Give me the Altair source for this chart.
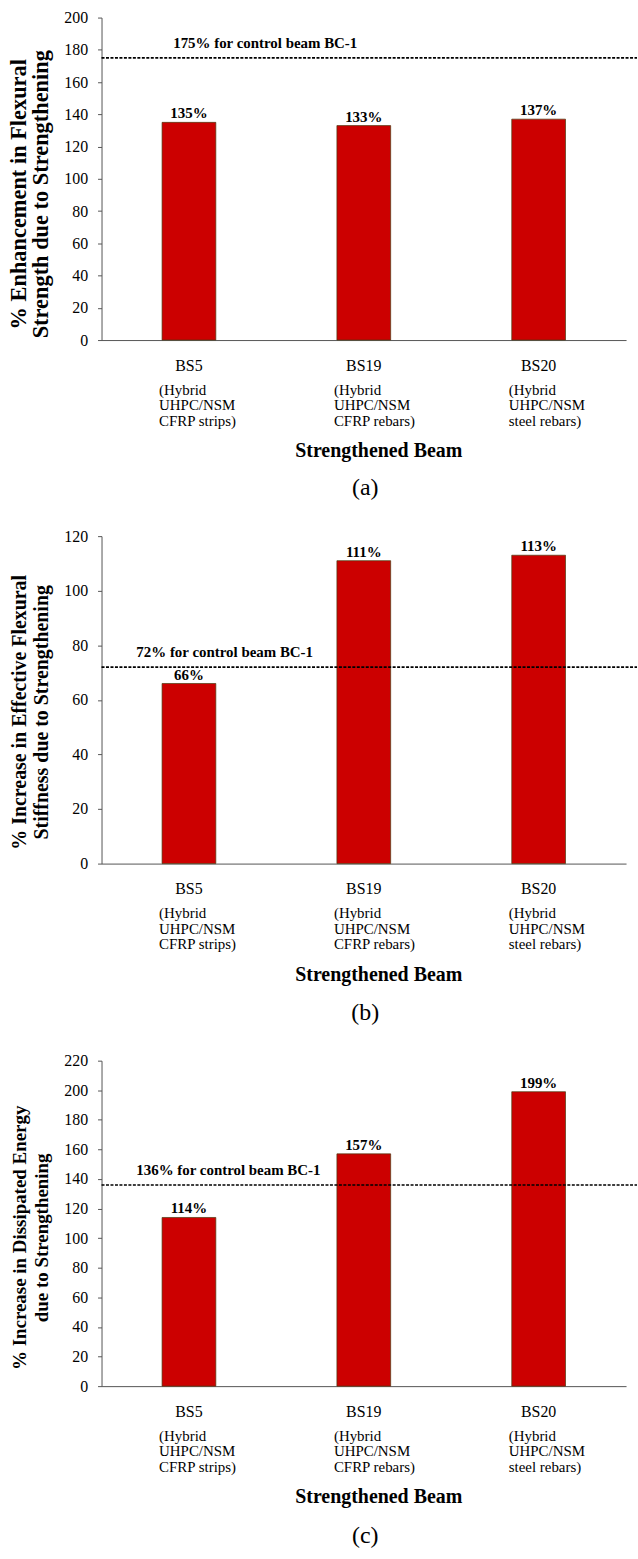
import altair as alt
import pandas as pd

beams = ["BS5", "BS19", "BS20"]
descriptions = [
    "(Hybrid\nUHPC/NSM\nCFRP strips)",
    "(Hybrid\nUHPC/NSM\nCFRP rebars)",
    "(Hybrid\nUHPC/NSM\nsteel rebars)",
]
flexural_strength = [135, 133, 137]
flexural_stiffness = [66, 111, 113]
dissipated_energy = [114, 157, 199]
control_values = [175, 72, 136]
y_max = [200, 120, 220]
y_titles = [
    ["% Enhancement in Flexural", "Strength due to Strengthening"],
    ["% Increase in Effective Flexural", "Stiffness due to Strengthening"],
    ["% Increase in Dissipated Energy", "due to Strengthening"],
]
captions = ["(a)", "(b)", "(c)"]
x_title = "Strengthened Beam"

SERIF = "Liberation Serif"
W = 527
heights = [324, 329, 327]
title_sizes = [22.5, 20, 19]
title_dy = [15, 12, 14]
ref_text_x = [72, 35, 35]
caption_dy = [149, 150, 151]


def panel(values, ctrl, ymax, ytitle, caption, h, tsize, tdy, rx, cdy):
    df = pd.DataFrame({"beam": beams, "desc": descriptions, "value": values})
    x = alt.X(
        "beam:N",
        sort=beams,
        scale=alt.Scale(paddingInner=0, paddingOuter=0),
        axis=alt.Axis(
            labels=False, ticks=False, domainColor="#555555",
            title=x_title, titleFont=SERIF, titleFontSize=20,
            titleFontWeight="bold", titleColor="black",
            titleX=278, titleY=111, titleBaseline="middle",
        ),
    )
    y = alt.Y(
        "value:Q",
        scale=alt.Scale(domain=[0, ymax], nice=False),
        axis=alt.Axis(
            values=list(range(0, ymax + 1, 20)), grid=False,
            tickSize=4, tickColor="#555555", domainColor="#555555",
            labelPadding=10, labelFont=SERIF, labelFontSize=16,
            labelColor="black",
            title=ytitle, titleFont=SERIF, titleFontSize=tsize,
            titleFontWeight="bold", titleColor="black",
            titleX=-76, titleY=h / 2 + tdy, titleBaseline="alphabetic",
            titleLineHeight=22,
        ),
    )

    base = alt.Chart(df)
    bars = base.mark_bar(size=54, color="#CC0000", stroke="#4a3a10",
                         strokeWidth=0.7).encode(x=x, y=y)
    vlabels = base.transform_calculate(
        label="datum.value + '%'"
    ).mark_text(baseline="alphabetic", dy=-4, font=SERIF, fontSize=15,
                fontWeight="bold", color="black").encode(
        x=x, y=y, text="label:N")
    names = base.mark_text(align="center", baseline="middle", font=SERIF,
                           fontSize=16, color="black").encode(
        x=x, y=alt.value(h + 26), text="beam:N")
    descs = base.mark_text(align="left", baseline="top", dx=-30,
                           lineBreak="\n", lineHeight=15.5, font=SERIF,
                           fontSize=15, color="black").encode(
        x=x, y=alt.value(h + 43), text="desc:N")

    ref_df = pd.DataFrame({"value": [ctrl],
                           "label": [f"{ctrl}% for control beam BC-1"]})
    ref = alt.Chart(ref_df)
    rule = ref.mark_rule(strokeDash=[3, 1.5], strokeWidth=1.6,
                         color="black").encode(
        y=y, x=alt.value(0), x2=alt.value(W + 11))
    rtext = ref.mark_text(align="left", baseline="alphabetic", dy=-10,
                          font=SERIF, fontSize=15, fontWeight="bold",
                          color="black").encode(
        x=alt.value(rx), y=y, text="label:N")

    cap = alt.Chart(pd.DataFrame({"cap": [caption]})).mark_text(
        align="center", baseline="middle", font=SERIF, fontSize=24,
        color="black").encode(
        x=alt.value(265), y=alt.value(h + cdy), text="cap:N")

    return alt.layer(bars, vlabels, names, descs, rule, rtext, cap).properties(
        width=W, height=h)


series = [flexural_strength, flexural_stiffness, dissipated_energy]
panels = [
    panel(series[i], control_values[i], y_max[i], y_titles[i], captions[i],
          heights[i], title_sizes[i], title_dy[i], ref_text_x[i], caption_dy[i])
    for i in range(3)
]

chart = alt.vconcat(*panels, spacing=28).properties(
    padding={"left": 8, "top": 6, "right": 0, "bottom": 0},
    background="white",
).configure_view(stroke=None)

chart.save("out.html", embed_options={"renderer": "svg", "actions": False})
